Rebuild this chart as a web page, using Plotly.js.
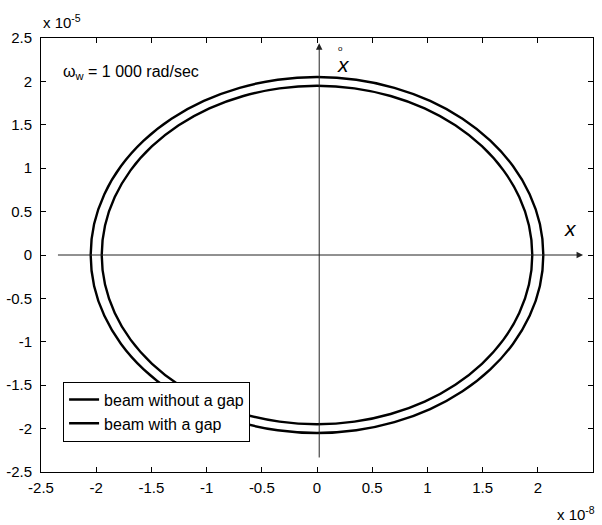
<!DOCTYPE html>
<html>
<head>
<meta charset="utf-8">
<script src="https://cdn.plot.ly/plotly-3.0.1.min.js"></script>
<style>html,body{margin:0;padding:0;background:#fff;}#chart{width:602px;height:525px;}</style>
</head>
<body>
<div id="chart"></div>
<script>
// Outer loop (beam without a gap), x in 1e-8, y in 1e-5, read every 10 degrees
const outerX = [2.050, 2.019, 1.926, 1.775, 1.570, 1.318, 1.025, 0.701, 0.356, 0.000, -0.356, -0.701, -1.025, -1.318, -1.570, -1.775, -1.926, -2.019, -2.050, -2.019, -1.926, -1.775, -1.570, -1.318, -1.025, -0.701, -0.356, 0.000, 0.356, 0.701, 1.025, 1.318, 1.570, 1.775, 1.926, 2.019, 2.050];
const outerY = [0.000, 0.356, 0.701, 1.025, 1.318, 1.570, 1.775, 1.926, 2.019, 2.050, 2.019, 1.926, 1.775, 1.570, 1.318, 1.025, 0.701, 0.356, 0.000, -0.356, -0.701, -1.025, -1.318, -1.570, -1.775, -1.926, -2.019, -2.050, -2.019, -1.926, -1.775, -1.570, -1.318, -1.025, -0.701, -0.356, 0.000];
// Inner loop (beam with a gap)
const innerX = [1.950, 1.920, 1.832, 1.689, 1.494, 1.253, 0.975, 0.667, 0.339, 0.000, -0.339, -0.667, -0.975, -1.253, -1.494, -1.689, -1.832, -1.920, -1.950, -1.920, -1.832, -1.689, -1.494, -1.253, -0.975, -0.667, -0.339, 0.000, 0.339, 0.667, 0.975, 1.253, 1.494, 1.689, 1.832, 1.920, 1.950];
const innerY = [0.000, 0.339, 0.667, 0.975, 1.253, 1.494, 1.689, 1.832, 1.920, 1.950, 1.920, 1.832, 1.689, 1.494, 1.253, 0.975, 0.667, 0.339, 0.000, -0.339, -0.667, -0.975, -1.253, -1.494, -1.689, -1.832, -1.920, -1.950, -1.920, -1.832, -1.689, -1.494, -1.253, -0.975, -0.667, -0.339, 0.000];

const tickVals = [-2.5, -2, -1.5, -1, -0.5, 0, 0.5, 1, 1.5, 2, 2.5];
const tickText = ['-2.5', '-2', '-1.5', '-1', '-0.5', '0', '0.5', '1', '1.5', '2', '2.5'];
const seriesNames = ['beam without a gap', 'beam with a gap'];

const FONT = 'Liberation Sans, Arial, Helvetica, sans-serif';

const traces = [
  {x: outerX, y: outerY, name: seriesNames[0], type: 'scatter', mode: 'lines',
   line: {color: '#000', width: 2.4, shape: 'spline', smoothing: 1}},
  {x: innerX, y: innerY, name: seriesNames[1], type: 'scatter', mode: 'lines',
   line: {color: '#000', width: 2.4, shape: 'spline', smoothing: 1}}
];

const axisCommon = {
  range: [-2.5, 2.5], tickmode: 'array', tickvals: tickVals, ticktext: tickText,
  ticks: 'inside', ticklen: 5, tickcolor: '#000', tickwidth: 1,
  showline: true, linecolor: '#000', linewidth: 1, mirror: 'ticks',
  showgrid: false, zeroline: false,
  tickfont: {family: FONT, size: 15, color: '#000'}
};

const layout = {
  width: 602, height: 525,
  margin: {l: 41, r: 9, t: 38, b: 53},
  paper_bgcolor: '#fff', plot_bgcolor: '#fff',
  font: {family: FONT, size: 15, color: '#000'},
  xaxis: Object.assign({}, axisCommon, {ticklabelstandoff: 2}),
  yaxis: Object.assign({}, axisCommon, {ticklabelstandoff: 5}),
  showlegend: true,
  legend: {x: 0.04, y: 0.07, xanchor: 'left', yanchor: 'bottom',
    bgcolor: '#fff', bordercolor: '#000', borderwidth: 1,
    font: {family: FONT, size: 16, color: '#000'}, tracegroupgap: 0},
  annotations: [
    {xref: 'paper', yref: 'paper', x: 0, y: 1, xanchor: 'left', yanchor: 'bottom', yshift: 5,
     text: 'x 10<sup>-5</sup>', showarrow: false, font: {family: FONT, size: 15}},
    {xref: 'paper', yref: 'paper', x: 1, y: 0, xanchor: 'right', yanchor: 'top', yshift: -30, xshift: 4,
     text: 'x 10<sup>-8</sup>', showarrow: false, font: {family: FONT, size: 15}},
    {xref: 'x', yref: 'y', x: -2.32, y: 2.1, xanchor: 'left', yanchor: 'middle',
     text: 'ω<sub>w</sub> = 1 000 rad/sec', showarrow: false, font: {family: FONT, size: 16}},
    // horizontal axis arrow
    {xref: 'x', yref: 'y', axref: 'x', ayref: 'y', x: 2.41, y: 0, ax: -2.36, ay: 0,
     text: '', showarrow: true, arrowhead: 2, arrowsize: 1.3, arrowwidth: 1, arrowcolor: '#222'},
    // vertical axis arrow
    {xref: 'x', yref: 'y', axref: 'x', ayref: 'y', x: 0.02, y: 2.44, ax: 0.02, ay: -2.35,
     text: '', showarrow: true, arrowhead: 2, arrowsize: 1.3, arrowwidth: 1, arrowcolor: '#222'},
    {xref: 'x', yref: 'y', x: 2.30, y: 0.31, text: '<i>x</i>', showarrow: false,
     font: {family: FONT, size: 21}},
    {xref: 'x', yref: 'y', x: 0.24, y: 2.19, text: '<i>x</i>', showarrow: false,
     font: {family: FONT, size: 21}},
    {xref: 'x', yref: 'y', x: 0.21, y: 2.38, text: 'o', showarrow: false,
     font: {family: FONT, size: 8}}
  ]
};

Plotly.newPlot('chart', traces, layout, {staticPlot: true, displayModeBar: false});
</script>
</body>
</html>
